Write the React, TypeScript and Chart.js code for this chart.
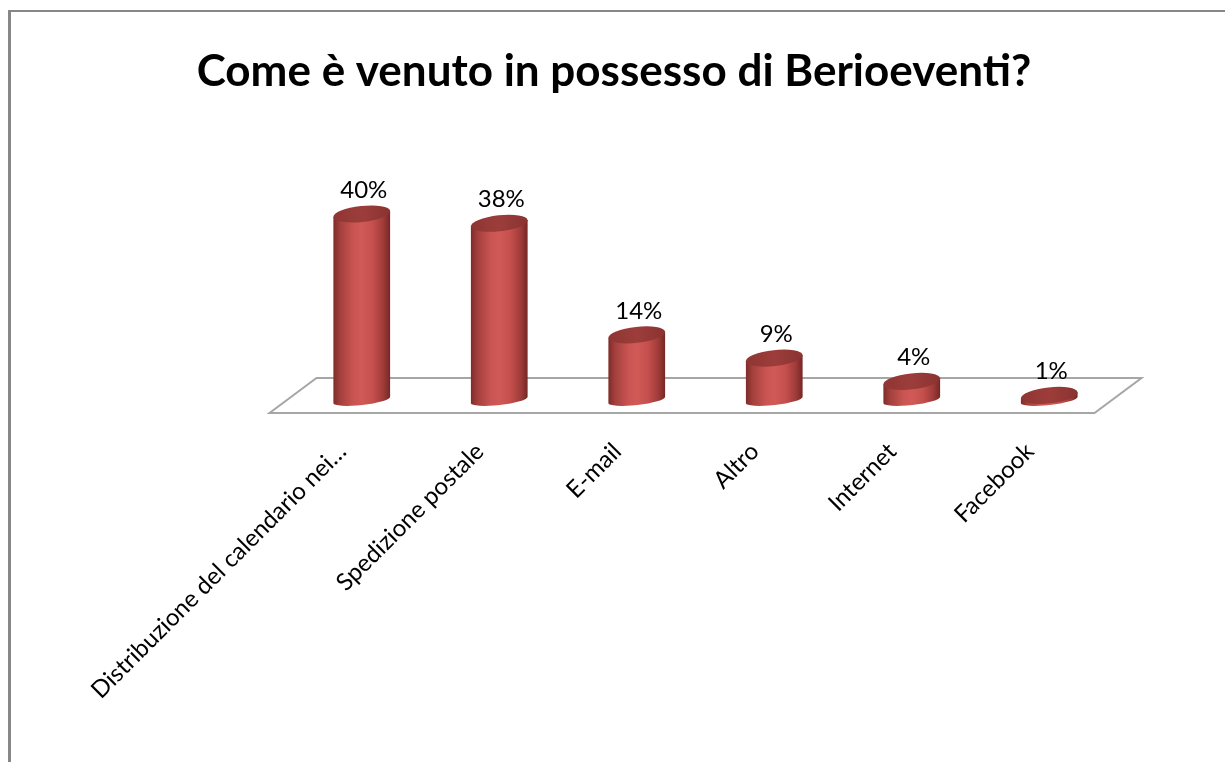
import React, { useEffect, useRef } from "react";
import { Chart, registerables } from "chart.js";

Chart.register(...registerables);

const TITLE = "Come è venuto in possesso di Berioeventi?";
const CATEGORIES = [
  "Distribuzione del calendario nei…",
  "Spedizione postale",
  "E-mail",
  "Altro",
  "Internet",
  "Facebook",
];
const VALUES = [40, 38, 14, 9, 4, 1];
const VALUE_LABELS = ["40%", "38%", "14%", "9%", "4%", "1%"];
const Y_MAX = 50;

const FONT = "Lato, 'Open Sans', 'DejaVu Sans', sans-serif";

const cylinderPlugin = {
  id: "cylinders",
  beforeDraw(chart: any) {
    const { ctx, chartArea, scales } = chart;
    const y0 = scales.y.getPixelForValue(0);
    // frame
    ctx.save();
    ctx.fillStyle = "#ffffff";
    ctx.fillRect(0, 0, chart.width, chart.height);
    ctx.strokeStyle = "#878787";
    ctx.lineWidth = 2;
    ctx.beginPath();
    ctx.moveTo(9, chart.height);
    ctx.lineTo(9, 11);
    ctx.lineTo(chart.width, 11);
    ctx.stroke();
    ctx.fillStyle = "#878787";
    ctx.fillRect(8, 11, 3, chart.height - 11);
    // title
    ctx.fillStyle = "#000";
    ctx.font = `bold 44px ${FONT}`;
    ctx.textAlign = "center";
    ctx.textBaseline = "alphabetic";
    ctx.fillText(TITLE, 614, 86);
    // floor
    const depth = 23.5;
    const back = y0 - 22;
    const front = y0 + 13;
    ctx.beginPath();
    ctx.moveTo(chartArea.left - depth, front);
    ctx.lineTo(chartArea.left + depth, back);
    ctx.lineTo(chartArea.right + depth, back);
    ctx.lineTo(chartArea.right - depth, front);
    ctx.closePath();
    ctx.fillStyle = "#ffffff";
    ctx.fill();
    ctx.strokeStyle = "#a6a6a6";
    ctx.lineWidth = 2;
    ctx.stroke();
    ctx.restore();
  },
  afterDatasetsDraw(chart: any) {
    const { ctx, scales } = chart;
    const meta = chart.getDatasetMeta(0);
    const tilt = -0.11;
    const ct = Math.cos(tilt);
    const st = Math.sin(tilt);
    ctx.save();
    meta.data.forEach((bar: any, i: number) => {
      const { x, y, base, width } = bar.getProps(["x", "y", "base", "width"], true);
      const rx = width / 2;
      const ryTop = 8;
      const ryBot = 5;
      const grad = ctx.createLinearGradient(x - rx, 0, x + rx, 0);
      grad.addColorStop(0, "#7e2b29");
      grad.addColorStop(0.12, "#a3403d");
      grad.addColorStop(0.35, "#c95451");
      grad.addColorStop(0.5, "#d15a57");
      grad.addColorStop(0.7, "#c44f4c");
      grad.addColorStop(0.88, "#9e3b39");
      grad.addColorStop(1, "#752624");
      ctx.beginPath();
      ctx.moveTo(x - rx * ct, y - rx * st);
      ctx.lineTo(x + rx * ct, y + rx * st);
      ctx.lineTo(x + rx * ct, base + rx * st);
      ctx.ellipse(x, base, rx, ryBot, tilt, 0, Math.PI, false);
      ctx.closePath();
      ctx.fillStyle = grad;
      ctx.fill();
      // top ellipse
      const tg = ctx.createLinearGradient(x - rx, 0, x + rx, 0);
      tg.addColorStop(0, "#8f3533");
      tg.addColorStop(0.5, "#9c3d3b");
      tg.addColorStop(1, "#8a3331");
      ctx.beginPath();
      ctx.ellipse(x, y, rx, ryTop, tilt, 0, Math.PI * 2);
      ctx.fillStyle = tg;
      ctx.fill();
      // value label
      ctx.fillStyle = "#000";
      ctx.font = `24px ${FONT}`;
      ctx.textAlign = "center";
      ctx.textBaseline = "alphabetic";
      ctx.fillText(VALUE_LABELS[i], x + 2, y - 16);
    });
    // category labels
    const y0 = scales.y.getPixelForValue(0);
    CATEGORIES.forEach((label, i) => {
      const cx = scales.x.getPixelForValue(i);
      ctx.save();
      ctx.translate(cx - 14, y0 + 53);
      ctx.rotate(-Math.PI / 4);
      ctx.fillStyle = "#000";
      ctx.font = `24px ${FONT}`;
      ctx.textAlign = "right";
      ctx.textBaseline = "alphabetic";
      ctx.fillText(label, 0, 0);
      ctx.restore();
    });
    ctx.restore();
  },
};

export default function App() {
  const ref = useRef<HTMLCanvasElement>(null);
  useEffect(() => {
    if (!ref.current) return;
    const chart = new Chart(ref.current, {
      type: "bar",
      data: {
        labels: CATEGORIES,
        datasets: [
          {
            data: VALUES,
            backgroundColor: "rgba(0,0,0,0)",
            borderWidth: 0,
            categoryPercentage: 1,
            barPercentage: 0.415,
          },
        ],
      },
      options: {
        responsive: false,
        animation: false,
        devicePixelRatio: 1,
        layout: { padding: { left: 293, right: 107, top: 167.5, bottom: 362 } },
        plugins: { legend: { display: false }, tooltip: { enabled: false }, title: { display: false } },
        scales: {
          x: { display: false },
          y: { display: false, min: 0, max: Y_MAX },
        },
      },
      plugins: [cylinderPlugin],
    });
    return () => chart.destroy();
  }, []);
  return (
    <div style={{ position: "fixed", left: 0, top: 0, width: 1225, height: 762 }}>
      <canvas ref={ref} width={1225} height={762} />
    </div>
  );
}
